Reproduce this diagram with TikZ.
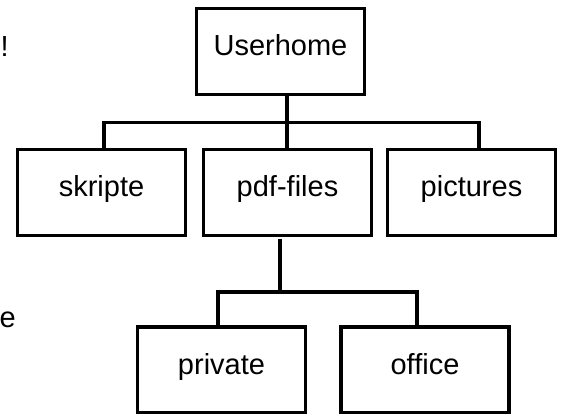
\documentclass[tikz,border=0pt]{standalone}
\usepackage{fontspec}
\setmainfont{Liberation Sans}
\begin{document}
\begin{tikzpicture}[x=1pt,y=-1pt,
  box/.style={draw, line width=3.5pt, outer sep=0pt, minimum width=168pt, minimum height=86pt,
    inner sep=0pt, text height=20pt, text depth=12pt, font=\fontsize{29}{34}\selectfont},
  conn/.style={line width=3.5pt},
  lbl/.style={inner sep=0pt, font=\fontsize{29}{34}\selectfont}]
\useasboundingbox (0,0) rectangle (562,414);
\node[box] (u)    at (280.5,51.5) {Userhome};
\node[box] (skr)  at (101.5,192.5) {skripte};
\node[box] (pdf)  at (287.5,192.5) {pdf-files};
\node[box] (pic)  at (471.5,192.5) {pictures};
\node[box] (priv) at (221.5,370) {private};
\node[box] (off)  at (425,370) {office};
\node[lbl, anchor=base west] (ex) at (0.5,57) {!};
\node[lbl, anchor=base west] (ee) at (-0.6,327) {e};
\draw[conn] ([xshift=6.5pt]u.south) -- ([xshift=-0.5pt]pdf.north);
\draw[conn] ([xshift=2.5pt]skr.north) -- ++(0pt,27pt) -| ([xshift=7.5pt]pic.north);
\draw[conn] ([xshift=-7.5pt,yshift=-3pt]pdf.south) -- ([xshift=-7.5pt,yshift=-57pt]pdf.south);
\draw[conn] ([xshift=-3.5pt]priv.north) -- ++(0pt,35pt) -| ([xshift=-8pt]off.north);
\end{tikzpicture}
\end{document}
